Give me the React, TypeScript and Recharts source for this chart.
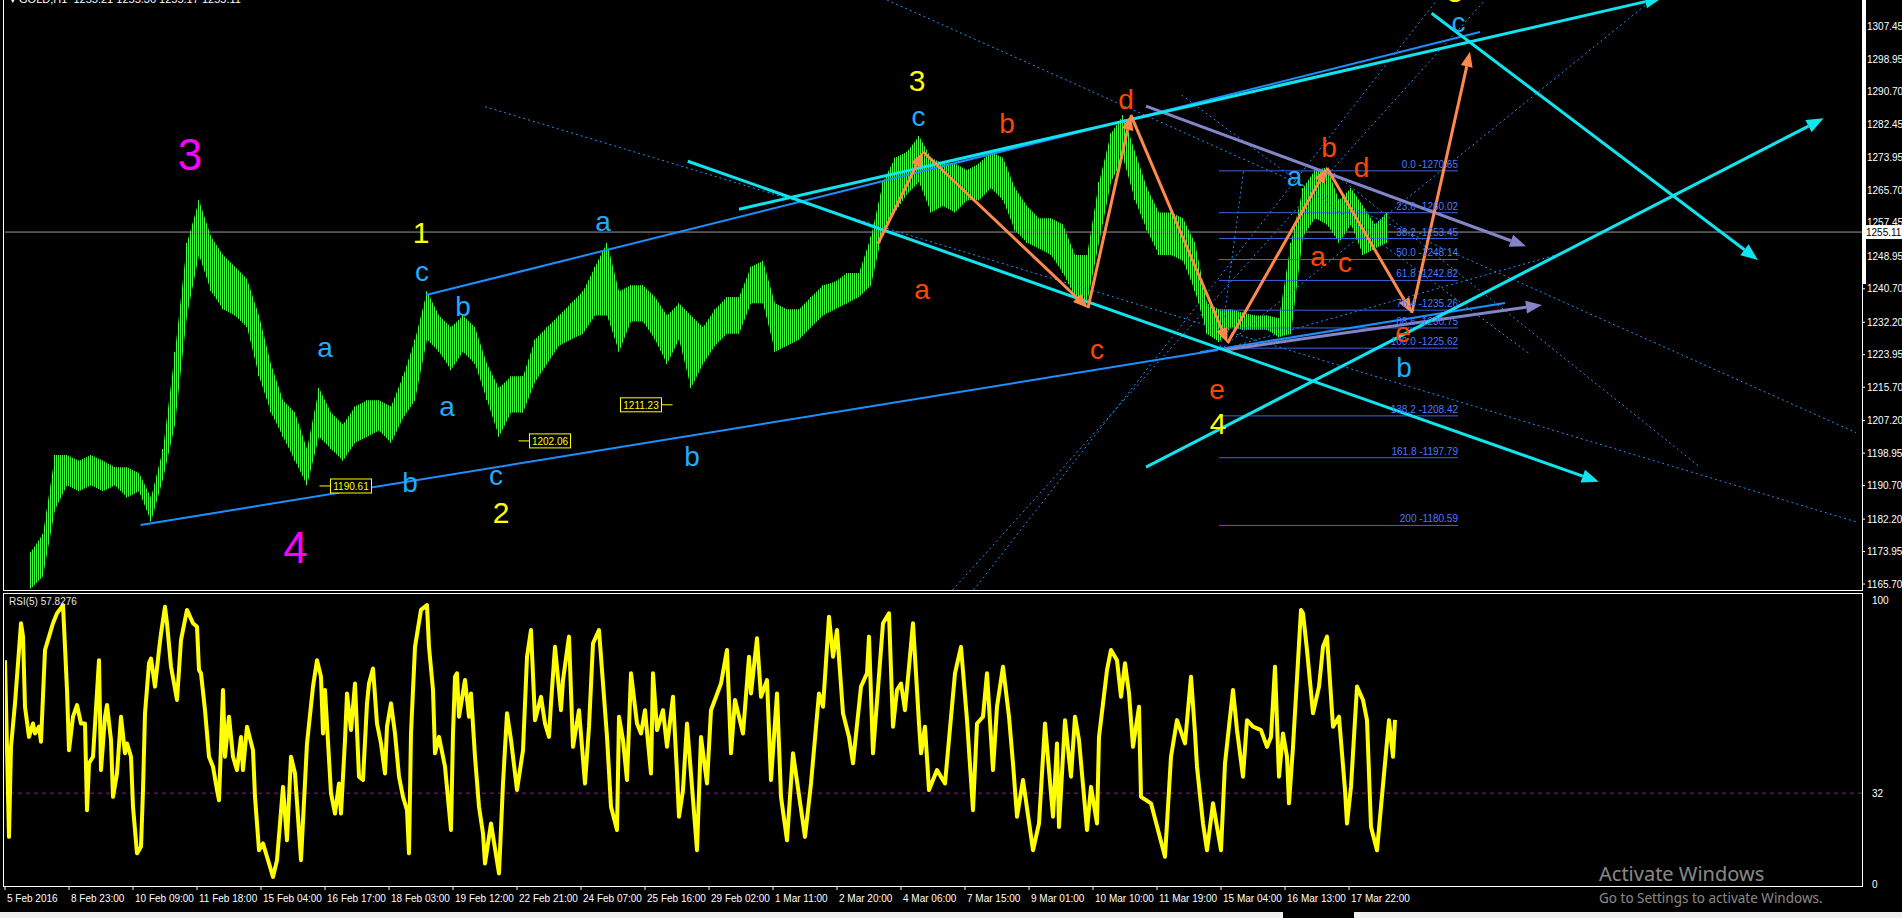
import React from 'react';
import { ComposedChart, Area, Bar, Line, XAxis, YAxis, ReferenceLine, ReferenceDot } from 'recharts';

const FONT = '"Liberation Sans", Arial, sans-serif';

// GOLD H1, one sample every 6 bars starting at bar 13 (high / low)
const PRICE_START = 13;
const PRICE_STEP = 6;
const priceHigh = [
  1173.9, 1178.5, 1198.5, 1198.5, 1197.0, 1198.5, 1197.0, 1195.4, 1195.4, 1193.9,
  1187.7, 1200.0, 1224.7, 1252.4, 1263.2, 1254.0, 1249.3, 1246.3, 1243.2, 1233.9,
  1221.6, 1212.4, 1209.3, 1200.0, 1215.5, 1209.3, 1206.2, 1210.8, 1212.4, 1212.4,
  1210.8, 1218.5, 1227.8, 1240.1, 1233.9, 1230.9, 1233.9, 1230.9, 1221.6, 1215.5,
  1218.5, 1218.5, 1227.8, 1230.9, 1233.9, 1237.0, 1240.1, 1246.3, 1252.4, 1240.1,
  1241.6, 1241.6, 1238.6, 1233.9, 1237.0, 1233.9, 1230.9, 1235.5, 1238.6, 1238.6,
  1246.3, 1247.8, 1237.0, 1235.5, 1235.5, 1238.6, 1241.6, 1242.5, 1244.7, 1244.7,
  1254.0, 1267.8, 1274.0, 1275.5, 1279.5, 1274.0, 1272.5, 1272.5, 1270.9, 1272.5,
  1275.5, 1274.0, 1266.3, 1261.7, 1258.6, 1258.6, 1257.0, 1249.3, 1249.3, 1267.8,
  1280.2, 1284.8, 1275.5, 1266.3, 1260.1, 1260.1, 1258.6, 1252.4, 1237.0, 1235.5,
  1235.5, 1234.6, 1233.9, 1233.9, 1233.3, 1252.4, 1266.3, 1270.9, 1271.5, 1263.2,
  1266.3, 1261.7, 1257.0, 1260.1,
];
const priceLow = [
  1164.6, 1167.7, 1184.6, 1190.8, 1189.3, 1190.8, 1189.3, 1190.8, 1187.7, 1189.3,
  1181.6, 1192.3, 1206.2, 1233.9, 1249.3, 1240.1, 1235.5, 1233.9, 1230.9, 1218.5,
  1209.3, 1203.1, 1197.0, 1190.8, 1203.1, 1200.0, 1197.0, 1201.6, 1203.1, 1204.7,
  1201.6, 1207.8, 1212.4, 1227.8, 1224.7, 1220.1, 1224.7, 1221.6, 1212.4, 1203.1,
  1209.3, 1209.3, 1217.0, 1221.6, 1226.2, 1227.8, 1229.3, 1233.9, 1233.9, 1224.7,
  1232.4, 1232.4, 1227.8, 1221.6, 1227.8, 1215.5, 1221.6, 1226.2, 1229.3, 1229.3,
  1237.0, 1237.0, 1224.7, 1226.2, 1227.8, 1230.9, 1233.9, 1235.5, 1237.0, 1238.6,
  1241.6, 1255.5, 1260.1, 1264.7, 1267.8, 1260.1, 1261.7, 1260.1, 1263.2, 1263.2,
  1266.3, 1263.2, 1255.5, 1252.4, 1250.9, 1249.3, 1244.7, 1238.6, 1237.0, 1252.4,
  1267.8, 1274.0, 1263.2, 1255.5, 1249.3, 1249.3, 1247.8, 1240.1, 1229.3, 1227.2,
  1230.9, 1230.3, 1230.3, 1230.3, 1228.4, 1229.3, 1254.0, 1258.6, 1257.0, 1252.4,
  1257.0, 1249.3, 1250.9, 1252.4,
];

// RSI(5) turning points: [bar, value]
const rsiSwings: [number, number][] = [
  [0, 78.8], [2, 16.6], [3, 48.3], [5, 63.6], [8, 91.8], [9, 87.1], [10, 62.4], [12, 51.8], [14, 56.5], [15, 53.0],
  [17, 55.4], [18, 50.1], [20, 82.4], [22, 87.1], [24, 91.8], [26, 95.3], [29, 98.2], [30, 83.5], [31, 68.3], [32, 47.1],
  [34, 58.9], [36, 63.0], [38, 56.5], [40, 56.5], [41, 26.0], [42, 42.5], [44, 44.8], [47, 78.8], [48, 40.1], [50, 58.9],
  [51, 63.0], [53, 50.7], [54, 30.7], [56, 38.9], [58, 58.9], [60, 46.0], [61, 49.5], [63, 44.8], [64, 27.2], [66, 10.8],
  [68, 13.1], [69, 33.1], [70, 60.1], [72, 77.7], [73, 79.4], [75, 69.5], [77, 82.4], [78, 88.2], [80, 97.6], [81, 91.8],
  [83, 76.5], [86, 64.8], [88, 85.9], [91, 96.5], [94, 91.8], [96, 90.6], [97, 75.3], [98, 74.2], [100, 61.2], [101, 53.0],
  [102, 44.8], [104, 41.3], [106, 33.1], [107, 29.5], [109, 68.3], [110, 44.8], [112, 58.9], [114, 44.8], [116, 40.1], [118, 51.8],
  [119, 40.1], [121, 55.4], [124, 47.1], [125, 30.7], [127, 11.9], [129, 14.3], [131, 9.6], [134, 2.5], [136, 8.4], [139, 34.2],
  [141, 15.4], [143, 44.8], [145, 38.9], [148, 8.4], [151, 49.5], [154, 69.5], [156, 78.8], [158, 73.0], [159, 53.0], [160, 68.3],
  [163, 31.9], [165, 24.8], [167, 35.4], [168, 24.8], [170, 50.7], [171, 67.1], [173, 54.2], [175, 70.6], [177, 37.8], [179, 36.6],
  [181, 63.6], [182, 70.6], [184, 75.9], [186, 56.5], [188, 49.5], [190, 38.9], [191, 55.4], [193, 63.6], [195, 53.0], [197, 37.8],
  [199, 30.7], [201, 26.0], [202, 10.8], [203, 53.0], [205, 83.5], [208, 96.5], [211, 98.2], [212, 83.5], [214, 68.3], [215, 46.0],
  [217, 51.8], [220, 41.3], [223, 19.0], [224, 53.0], [225, 73.0], [226, 74.2], [227, 58.9], [230, 71.8], [232, 58.9], [233, 67.1],
  [235, 44.8], [237, 27.2], [239, 17.8], [240, 7.2], [243, 21.3], [247, 3.7], [249, 35.4], [251, 60.1], [253, 50.7], [256, 33.1],
  [259, 47.1], [261, 80.0], [263, 89.4], [265, 57.7], [268, 65.9], [270, 56.5], [272, 51.8], [273, 63.6], [275, 83.5], [278, 61.2],
  [279, 71.8], [282, 87.1], [284, 48.3], [287, 61.2], [290, 35.4], [292, 55.4], [294, 84.7], [297, 89.4], [299, 70.6], [301, 51.8],
  [303, 27.2], [306, 19.0], [307, 58.9], [309, 50.7], [311, 36.6], [313, 74.2], [316, 56.5], [318, 53.0], [320, 61.2], [323, 38.9],
  [324, 74.2], [326, 54.2], [329, 61.2], [331, 48.3], [334, 65.9], [336, 38.9], [337, 23.7], [339, 33.1], [341, 56.5], [346, 11.9],
  [348, 51.8], [351, 35.4], [353, 61.2], [358, 70.6], [361, 82.4], [363, 46.0], [365, 64.8], [369, 53.0], [372, 80.0], [373, 67.1],
  [376, 86.5], [378, 65.9], [381, 71.8], [383, 36.6], [386, 67.1], [388, 30.7], [391, 15.4], [394, 46.0], [400, 16.6], [403, 35.4],
  [407, 67.1], [409, 62.4], [412, 94.1], [414, 80.0], [416, 89.4], [419, 60.1], [422, 51.8], [424, 42.5], [428, 69.5], [431, 74.2],
  [432, 87.1], [434, 46.0], [439, 91.8], [442, 95.3], [444, 55.4], [446, 68.3], [448, 70.6], [450, 61.2], [454, 91.8], [457, 56.5],
  [458, 46.0], [460, 55.4], [462, 33.1], [466, 40.1], [470, 35.4], [475, 74.2], [478, 83.5], [481, 57.7], [484, 26.0], [486, 56.5],
  [489, 58.9], [491, 74.2], [494, 40.1], [496, 62.4], [499, 76.5], [502, 58.9], [504, 42.5], [506, 23.7], [509, 36.6], [514, 11.9],
  [517, 21.3], [520, 56.5], [524, 23.7], [526, 49.5], [527, 20.1], [530, 57.7], [533, 37.8], [535, 58.9], [537, 50.7], [541, 19.0],
  [543, 34.2], [546, 21.3], [547, 51.8], [551, 75.3], [553, 82.4], [556, 78.8], [558, 65.9], [560, 77.7], [562, 67.1], [564, 48.3],
  [567, 62.4], [568, 30.7], [573, 28.4], [580, 9.6], [583, 44.8], [586, 57.7], [590, 49.5], [593, 73.0], [595, 53.0], [596, 41.3],
  [599, 21.3], [601, 11.9], [604, 28.4], [606, 20.1], [608, 11.9], [610, 42.5], [614, 68.3], [616, 54.2], [619, 37.8], [621, 57.7],
  [624, 55.4], [628, 54.2], [631, 48.3], [633, 51.8], [635, 76.5], [637, 37.8], [639, 53.0], [641, 44.8], [642, 28.4], [644, 48.3],
  [648, 96.5], [649, 95.3], [651, 82.4], [654, 60.1], [657, 69.5], [659, 83.5], [661, 87.1], [664, 55.4], [667, 58.9], [670, 33.1],
  [671, 21.3], [673, 34.2], [676, 69.5], [679, 64.8], [681, 57.7], [683, 20.1], [686, 11.9], [688, 27.2], [690, 42.5], [692, 57.7],
  [694, 44.8], [695, 57.8],
];

const priceTicks = [
  1307.45, 1298.95, 1290.7, 1282.45, 1273.95, 1265.7, 1257.45, 1248.95, 1240.7,
  1232.2, 1223.95, 1215.7, 1207.2, 1198.95, 1190.7, 1182.2, 1173.95, 1165.7,
];
const rsiTicks = [100, 32, 0];
const xTickBars = [0, 32, 64, 96, 128, 160, 192, 224, 256, 288, 320, 352, 384, 416, 448, 480, 512, 544, 576, 608, 640, 672];
const xTickLabels = [
  '5 Feb 2016', '8 Feb 23:00', '10 Feb 09:00', '11 Feb 18:00', '15 Feb 04:00', '16 Feb 17:00',
  '18 Feb 03:00', '19 Feb 12:00', '22 Feb 21:00', '24 Feb 07:00', '25 Feb 16:00', '29 Feb 02:00',
  '1 Mar 11:00', '2 Mar 20:00', '4 Mar 06:00', '7 Mar 15:00', '9 Mar 01:00', '10 Mar 10:00',
  '11 Mar 19:00', '15 Mar 04:00', '16 Mar 13:00', '17 Mar 22:00',
];

const fibLevels = ['0.0', '23.6', '38.2', '50.0', '61.8', '76.4', '88.6', '100.0', '138.2', '161.8', '200'];
const fibPrices = [1270.65, 1260.02, 1253.45, 1248.14, 1242.82, 1235.26, 1230.75, 1225.62, 1208.42, 1197.79, 1180.59];
const FIB_FROM = 607;
const FIB_TO = 726.5;

const LAST_PRICE = 1255.11;
const RSI_LEVEL = 32;

const priceTags = [
  { value: 1190.61, bar: 173 },
  { value: 1202.06, bar: 272.5 },
  { value: 1211.23, bar: 318 },
];

type Wave = { t: string; bar: number; price: number };
const magentaWaves: Wave[] = [
  { t: '3', bar: 92.5, price: 1274.9 },
  { t: '4', bar: 145.3, price: 1175.1 },
];
const yellowWaves: Wave[] = [
  { t: '1', bar: 208, price: 1254.9 },
  { t: '2', bar: 248, price: 1183.8 },
  { t: '3', bar: 456, price: 1293.7 },
  { t: '4', bar: 606.5, price: 1206.6 },
  { t: '5', bar: 725, price: 1316.2 },
];
const blueWaves: Wave[] = [
  { t: 'c', bar: 208.5, price: 1245.0 },
  { t: 'a', bar: 160, price: 1225.7 },
  { t: 'b', bar: 229, price: 1236.1 },
  { t: 'a', bar: 221, price: 1210.9 },
  { t: 'b', bar: 202.5, price: 1191.6 },
  { t: 'c', bar: 245.5, price: 1193.4 },
  { t: 'a', bar: 299, price: 1257.7 },
  { t: 'b', bar: 343.5, price: 1198.0 },
  { t: 'c', bar: 456.8, price: 1284.4 },
  { t: 'a', bar: 644.8, price: 1269.2 },
  { t: 'b', bar: 699.5, price: 1220.6 },
  { t: 'c', bar: 726.8, price: 1308.3 },
];
const redWaves: Wave[] = [
  { t: 'b', bar: 501, price: 1282.8 },
  { t: 'd', bar: 560.5, price: 1288.9 },
  { t: 'a', bar: 458.5, price: 1240.4 },
  { t: 'c', bar: 546, price: 1225.2 },
  { t: 'e', bar: 606, price: 1215.0 },
  { t: 'b', bar: 662, price: 1276.5 },
  { t: 'd', bar: 678.3, price: 1271.4 },
  { t: 'a', bar: 656.5, price: 1248.9 },
  { t: 'c', bar: 670, price: 1247.3 },
  { t: 'e', bar: 699, price: 1229.7 },
];

// trend lines [bar1, price1, bar2, price2]
const blueLines = [
  [67.8, 1180.7, 606.4, 1225.15],
  [210.5, 1239.1, 737.5, 1305.9],
  [597.5, 1224.6, 750, 1237.1],
];
const cyanArrows = [
  [367, 1260.9, 828.5, 1314.6],
  [341.4, 1273.1, 796.9, 1191.7],
  [570.5, 1195.4, 909.3, 1284.0],
  [713.3, 1310.7, 876.5, 1248.0],
];
const slateArrows = [
  [570.5, 1287.1, 760.5, 1251.5],
  [610, 1225.15, 768.5, 1236.6],
];
const dottedLines = [
  [240, 1286.95, 925.5, 1181.5],
  [441, 1314.05, 925.5, 1204.17],
  [484.3, 1164.19, 716, 1314.05],
  [473.8, 1164.19, 740.1, 1314.05],
  [588.3, 1289.92, 762.5, 1224.1],
  [607.5, 1225.15, 775, 1249.2],
  [607.5, 1225.15, 823.4, 1314.05],
  [662.5, 1270.87, 847.5, 1195.4],
  [619.2, 1270.44, 607.5, 1225.15],
];
const zigzagBars = [436.4, 459, 541.5, 562.9, 611.3, 661, 703.4, 732.5];
const zigzagPrices = [1252.07, 1275.5, 1235.8, 1284.85, 1226.93, 1271.4, 1234.55, 1300.9];

const BAR_DOMAIN: [number, number] = [0, 928.5];
const PRICE_DOMAIN: [number, number] = [1164.19, 1314.05];
const RSI_DOMAIN: [number, number] = [-0.7, 102.46];

const priceData = priceHigh.map((h, i) => ({ bar: PRICE_START + i * PRICE_STEP, range: [priceLow[i], h] }));
const rsiData = rsiSwings.map(([bar, rsi]) => ({ bar, rsi }));

const arrowShape = (color: string, width: number, head: number) => (p: any) => {
  const { x1, y1, x2, y2 } = p;
  const a = Math.atan2(y2 - y1, x2 - x1);
  const bx = x2 - head * Math.cos(a);
  const by = y2 - head * Math.sin(a);
  const w = head * 0.4;
  const pts = `${x2},${y2} ${bx - w * Math.sin(a)},${by + w * Math.cos(a)} ${bx + w * Math.sin(a)},${by - w * Math.cos(a)}`;
  return (
    <g clipPath={p.clipPath}>
      <line x1={x1} y1={y1} x2={bx} y2={by} stroke={color} strokeWidth={width} />
      <polygon points={pts} fill={color} />
    </g>
  );
};

const textShape = (text: string, color: string, size: number) => (p: any) => (
  <text x={p.cx} y={p.cy} fill={color} fontSize={size} fontFamily={FONT} textAnchor="middle" dominantBaseline="central">
    {text}
  </text>
);

const fibText = (text: string) => (p: any) => (
  <text x={p.cx} y={p.cy - 3} fill="#4a78ff" fontSize={10} fontFamily={FONT} textAnchor="end">
    {text}
  </text>
);

const tagShape = (text: string, stubRight: boolean) => (p: any) => {
  const w = 41;
  const x0 = p.cx - w / 2;
  return (
    <g>
      <line
        x1={stubRight ? x0 + w : x0 - 11}
        x2={stubRight ? x0 + w + 11 : x0}
        y1={p.cy}
        y2={p.cy}
        stroke="#ffff00"
      />
      <rect x={x0} y={p.cy - 7} width={w} height={14} fill="#000" stroke="#ffff00" />
      <text x={p.cx} y={p.cy + 4} fill="#ffff00" fontSize={10} fontFamily={FONT} textAnchor="middle">
        {text}
      </text>
    </g>
  );
};

const lastPriceShape = (p: any) => (
  <g>
    <rect x={p.cx} y={p.cy - 7} width={40} height={14} fill="#fff" />
    <text x={p.cx + 4} y={p.cy + 4} fill="#000" fontSize={10} fontFamily={FONT}>
      {LAST_PRICE.toFixed(2)}
    </text>
  </g>
);

const XTick = (props: any) => {
  const { x, y, payload } = props;
  const i = xTickBars.indexOf(payload.value);
  return (
    <text x={x + 2} y={y + 10} fill="#fff" fontSize={10} fontFamily={FONT} textAnchor="start">
      {xTickLabels[i]}
    </text>
  );
};

const waveDots = (list: Wave[], color: string, size: number, key: string) =>
  list.map((w, i) => (
    <ReferenceDot
      key={key + i}
      x={w.bar}
      y={w.price}
      ifOverflow="visible"
      shape={textShape(w.t, color, size)}
    />
  ));

const seg = (l: number[]) => [
  { x: l[0], y: l[1] },
  { x: l[2], y: l[3] },
];

const box = (left: number, top: number, width: number, height: number, bg = '#fff') => (
  <div style={{ position: 'absolute', left, top, width, height, background: bg }} />
);

export default function App() {
  return (
    <div style={{ position: 'absolute', left: 0, top: 0, width: 1902, height: 918, background: '#000', overflow: 'hidden', fontFamily: FONT }}>
      <div style={{ position: 'absolute', left: 0, top: 0 }}>
        <ComposedChart width={1902} height={590} data={priceData} margin={{ top: 0, right: 0, bottom: 0, left: 5 }}>
          <defs>
            {/* MT4 draws one 1px bar every 2px */}
            <pattern id="hbars" x="0" y="0" width="2" height="4" patternUnits="userSpaceOnUse">
              <rect x="0" y="0" width="1" height="4" fill="#3cff3c" />
            </pattern>
          </defs>
          <XAxis dataKey="bar" type="number" domain={BAR_DOMAIN} allowDataOverflow hide />
          <YAxis
            orientation="right"
            type="number"
            width={40}
            domain={PRICE_DOMAIN}
            allowDataOverflow
            ticks={priceTicks}
            interval={0}
            tickFormatter={(v: number) => v.toFixed(2)}
            tick={{ fill: '#fff', fontSize: 10, fontFamily: FONT }}
            tickSize={3}
            tickMargin={2}
            tickLine={{ stroke: '#fff' }}
            axisLine={false}
          />
          <ReferenceLine y={LAST_PRICE} stroke="#9a9a9a" strokeWidth={1} />
          <Area dataKey="range" type="linear" stroke="none" fill="url(#hbars) #1c9a1c" fillOpacity={1} isAnimationActive={false} />
          <Bar dataKey="range" fill="#40ff40" barSize={1} isAnimationActive={false} />
          {dottedLines.map((l, i) => (
            <ReferenceLine key={'d' + i} segment={seg(l)} ifOverflow="hidden" stroke="#1e90ff" strokeWidth={1} strokeDasharray="2 3" />
          ))}
          {fibPrices.map((p, i) => (
            <ReferenceLine key={'f' + i} segment={[{ x: FIB_FROM, y: p }, { x: FIB_TO, y: p }]} ifOverflow="hidden" stroke="#3c64e6" strokeWidth={1} />
          ))}
          {fibPrices.map((p, i) => (
            <ReferenceDot key={'ft' + i} x={FIB_TO} y={p} ifOverflow="visible" shape={fibText(`${fibLevels[i]} -${p.toFixed(2)}`)} />
          ))}
          {blueLines.map((l, i) => (
            <ReferenceLine key={'b' + i} segment={seg(l)} ifOverflow="hidden" stroke="#1e8fff" strokeWidth={2} />
          ))}
          {slateArrows.map((l, i) => (
            <ReferenceLine key={'s' + i} segment={seg(l)} ifOverflow="hidden" shape={arrowShape('#8484c8', 3, 16)} />
          ))}
          {cyanArrows.map((l, i) => (
            <ReferenceLine key={'c' + i} segment={seg(l)} ifOverflow="hidden" shape={arrowShape('#10e4ee', 3, 17)} />
          ))}
          {zigzagBars.slice(1).map((b, i) => (
            <ReferenceLine
              key={'z' + i}
              segment={[{ x: zigzagBars[i], y: zigzagPrices[i] }, { x: b, y: zigzagPrices[i + 1] }]}
              ifOverflow="hidden"
              shape={arrowShape('#ff8a4c', 3, 15)}
            />
          ))}
          {priceTags.map((t, i) => (
            <ReferenceDot key={'t' + i} x={t.bar} y={t.value} ifOverflow="visible" shape={tagShape(t.value.toFixed(2), i === 2)} />
          ))}
          {waveDots(magentaWaves, '#ff00ff', 44, 'm')}
          {waveDots(yellowWaves, '#ffff00', 30, 'y')}
          {waveDots(blueWaves, '#22aaff', 28, 'l')}
          {waveDots(redWaves, '#ff4500', 28, 'r')}
          <ReferenceDot x={BAR_DOMAIN[1]} y={LAST_PRICE} ifOverflow="visible" shape={lastPriceShape} />
        </ComposedChart>
      </div>

      <div style={{ position: 'absolute', left: 0, top: 591 }}>
        <ComposedChart width={1902} height={327} data={rsiData} margin={{ top: 2, right: 0, bottom: 0, left: 5 }}>
          <XAxis
            dataKey="bar"
            type="number"
            domain={BAR_DOMAIN}
            allowDataOverflow
            ticks={xTickBars}
            interval={0}
            height={32}
            tick={<XTick />}
            tickSize={4}
            tickLine={{ stroke: '#fff' }}
            axisLine={false}
          />
          <YAxis
            orientation="right"
            type="number"
            width={40}
            domain={RSI_DOMAIN}
            allowDataOverflow
            ticks={rsiTicks}
            interval={0}
            tick={{ fill: '#fff', fontSize: 10, fontFamily: FONT }}
            tickLine={false}
            tickMargin={4}
            axisLine={false}
          />
          <ReferenceLine y={RSI_LEVEL} stroke="#8b1a8b" strokeDasharray="4 4" />
          <Line
            dataKey="rsi"
            type="linear"
            stroke="#ffff00"
            strokeWidth={4}
            strokeLinejoin="round"
            dot={false}
            isAnimationActive={false}
          />
        </ComposedChart>
      </div>

      {/* panel frames */}
      {box(3, 0, 1, 590)}
      {box(3, 590, 1860, 1)}
      {box(3, 593, 1860, 1)}
      {box(3, 593, 1, 294)}
      {box(3, 886, 1860, 1)}
      {box(1862, 0, 1, 591)}
      {box(1862, 593, 1, 294)}
      {box(1862, 0, 4, 284)}

      <div style={{ position: 'absolute', left: 10, top: -7, color: '#fff', fontSize: 11, whiteSpace: 'pre' }}>
        {'\u25BE GOLD,H1  1255.21 1255.36 1255.17 1255.11'}
      </div>
      <div style={{ position: 'absolute', left: 9, top: 596, color: '#e6e6e6', fontSize: 10 }}>RSI(5) 57.8276</div>

      <div style={{ position: 'absolute', left: 1599, top: 860, color: 'rgba(255,255,255,0.55)', fontSize: 20, fontFamily: '"Noto Sans", sans-serif' }}>
        Activate Windows
      </div>
      <div style={{ position: 'absolute', left: 1599, top: 889, color: 'rgba(255,255,255,0.55)', fontSize: 13.5, fontFamily: '"Noto Sans", sans-serif' }}>
        Go to Settings to activate Windows.
      </div>

      {box(0, 912, 1283, 6, '#f0f0f0')}
      {box(1354, 912, 548, 6, '#f0f0f0')}
    </div>
  );
}
